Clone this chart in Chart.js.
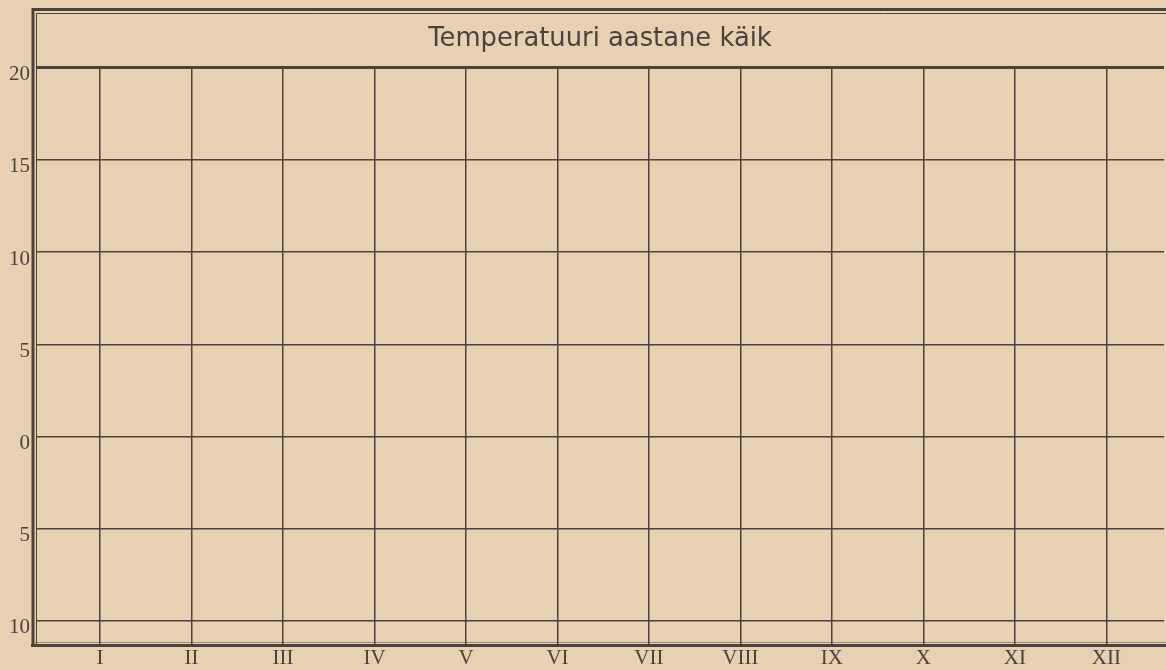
<!DOCTYPE html>
<html lang="et">
<head>
  <meta charset="UTF-8">
  <title>Temperatuuri aastane käik</title>
  <style>
body {
  margin: 0;
  padding: 0;
  background: #e7d1b2;
}

.wrap {
  width: 1166px;
  height: 670px;
}
  </style>
</head>
<body>

  <div class="wrap">
    <canvas id="tempChart" width="1166" height="670"></canvas>
  </div>

  <script src="https://cdn.jsdelivr.net/npm/chart.js"></script>

  <script>
    // Months as printed on the form (roman numerals)
    const months = ['I', 'II', 'III', 'IV', 'V', 'VI', 'VII', 'VIII', 'IX', 'X', 'XI', 'XII'];
    const monthPos = [1, 2, 3, 4, 5, 6, 7, 8, 9, 10, 11, 12];
    // Temperature grid lines (the form prints no minus sign)
    const tempTicks = [-10, -5, 0, 5, 10, 15, 20];
    // The form is blank: no temperatures filled in yet
    const monthlyTemp = [];

    const ink = '#4a433d';
    const paper = '#e7d1b2';

    // paper background + printed frame around the grid
    const framePlugin = {
      id: 'frame',
      beforeDraw(chart) {
        const c = chart.ctx;
        c.save();
        c.fillStyle = paper;
        c.fillRect(0, 0, chart.width, chart.height);
        c.restore();
      },
      afterDraw(chart) {
        const c = chart.ctx;
        const a = chart.chartArea;
        c.save();
        c.strokeStyle = ink;
        // top double rule
        c.lineWidth = 3;
        c.beginPath(); c.moveTo(a.left - 4, 9.5); c.lineTo(chart.width, 9.5); c.stroke();
        c.lineWidth = 1;
        c.beginPath(); c.moveTo(a.left, 13.5); c.lineTo(chart.width, 13.5); c.stroke();
        // left double rule
        c.lineWidth = 3;
        c.beginPath(); c.moveTo(33, 8); c.lineTo(33, a.bottom + 2); c.stroke();
        c.lineWidth = 1;
        c.beginPath(); c.moveTo(36.5, 13); c.lineTo(36.5, a.bottom); c.stroke();
        // bottom double rule
        c.lineWidth = 3;
        c.beginPath(); c.moveTo(31, a.bottom + 0.5); c.lineTo(chart.width, a.bottom + 0.5); c.stroke();
        c.lineWidth = 1;
        c.globalAlpha = 0.5;
        c.beginPath(); c.moveTo(35, a.bottom - 2.5); c.lineTo(chart.width, a.bottom - 2.5); c.stroke();
        c.restore();
      }
    };

    const ctx = document.getElementById('tempChart').getContext('2d');

    const tempChart = new Chart(ctx, {
      type: 'line',
      data: {
        datasets: [{
          label: 'Temperatuur',
          data: monthlyTemp,
          borderColor: ink,
          borderWidth: 2,
          pointRadius: 0,
          fill: false,
        }],
      },
      options: {
        responsive: false,
        animation: false,
        layout: { padding: { left: 0, right: 2, top: 0, bottom: 0 } },
        plugins: {
          legend: { display: false },
          tooltip: { enabled: false },
          title: {
            display: true,
            fullSize: false,
            text: 'Temperatuuri aastane käik',
            color: ink,
            font: { family: 'DejaVu Sans', size: 25.8, weight: 'normal', lineHeight: 1 },
            padding: { top: 26, bottom: 16 }
          }
        },
        scales: {
          x: {
            type: 'linear',
            min: 0.3,
            max: 12.63,
            afterBuildTicks: (scale) => { scale.ticks = monthPos.map(v => ({ value: v })); },
            afterFit: (scale) => { scale.height = 25; },
            border: { display: false },
            grid: { color: ink, lineWidth: 1.5, drawTicks: false },
            ticks: {
              color: ink,
              padding: 1,
              autoSkip: false,
              maxRotation: 0,
              font: { family: 'Liberation Serif', size: 21 },
              callback: (v) => months[monthPos.indexOf(v)]
            }
          },
          y: {
            min: -11.31,
            max: 20,
            afterBuildTicks: (scale) => { scale.ticks = tempTicks.map(v => ({ value: v })); },
            afterFit: (scale) => { scale.width = 36; },
            border: { display: false },
            grid: {
              color: ink,
              lineWidth: (c) => (c.tick && c.tick.value === 20 ? 3 : 1.5),
              drawTicks: false
            },
            ticks: {
              color: ink,
              padding: 6,
              labelOffset: 7,
              font: { family: 'Liberation Serif', size: 21 },
              callback: (v) => String(Math.abs(v))
            }
          }
        }
      },
      plugins: [framePlugin]
    });
  </script>

</body>
</html>
